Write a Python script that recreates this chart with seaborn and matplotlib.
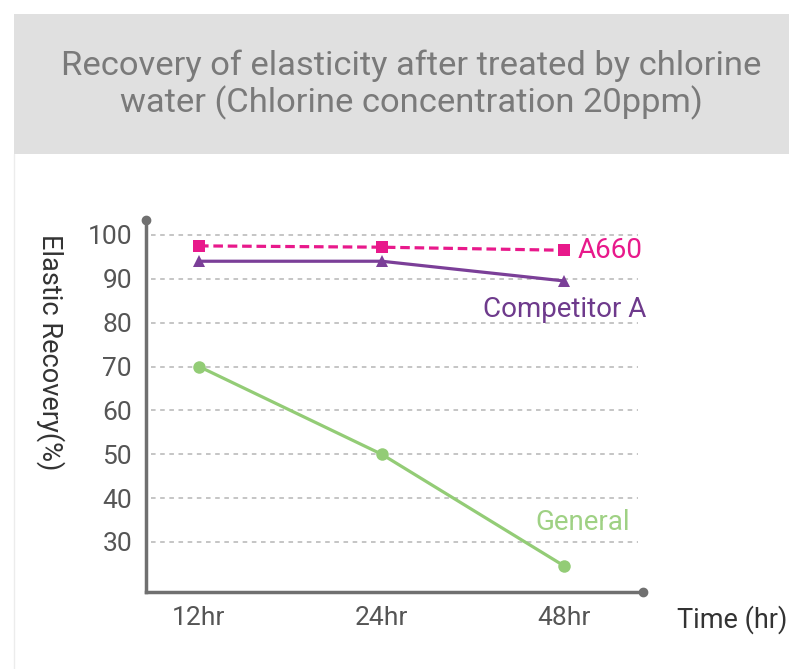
import matplotlib
matplotlib.use("Agg")
import matplotlib.pyplot as plt
from matplotlib.patches import Rectangle
from matplotlib.lines import Line2D
import seaborn as sns
import pandas as pd

times = ["12hr", "24hr", "48hr"]
series_names = ["A660", "Competitor A", "General"]
a660 = [97.5, 97.2, 96.5]
competitor_a = [94.0, 94.0, 89.5]
general = [70.0, 50.0, 24.5]
y_ticks = [30, 40, 50, 60, 70, 80, 90, 100]
title = "Recovery of elasticity after treated by chlorine\nwater (Chlorine concentration 20ppm)"
y_label = "Elastic Recovery(%)"
x_label = "Time (hr)"

colors = {"A660": "#e8198b", "Competitor A": "#7b3f98", "General": "#93cc76"}
label_colors = {"A660": "#e8198b", "Competitor A": "#6e3a8c", "General": "#9fd184"}

df = pd.DataFrame({
    "time": times * 3,
    "value": a660 + competitor_a + general,
    "series": [s for s in series_names for _ in times],
})

sns.set_style("white")
plt.rcParams["font.family"] = ["Roboto", "DejaVu Sans"]

fig = plt.figure(figsize=(7.89, 6.69), dpi=100)
fig.patch.set_facecolor("white")

# Title band
fig.patches.append(Rectangle((14 / 789, 1 - 154 / 669), 1 - 14 / 789, (154 - 14) / 669,
                             transform=fig.transFigure, facecolor="#e0e0e0", edgecolor="none", zorder=0))
fig.lines.append(Line2D([14 / 789, 14 / 789], [0, 1 - 154 / 669], transform=fig.transFigure,
                        color="#ececec", lw=1))
fig.text(411 / 789, 1 - 85 / 669, title, ha="center", va="center", fontsize=24.8,
         color="#7a7a7a", linespacing=1.12)

ax = fig.add_axes([146 / 789, 77 / 669, (643 - 146) / 789, (592 - 220) / 669])

sns.lineplot(data=df, x="time", y="value", hue="series", style="series",
             palette=colors,
             markers={"A660": "s", "Competitor A": "^", "General": "o"},
             dashes={"A660": (3, 1.5), "Competitor A": "", "General": ""},
             markersize=9, markeredgewidth=0, linewidth=2.3, sort=False,
             legend=False, ax=ax, zorder=3)

ax.set_xlim(-0.29, 2.43)
ax.set_ylim(18.6, 103.4)
ax.set_yticks(y_ticks)
ax.set_yticklabels([str(v) for v in y_ticks])
ax.tick_params(axis="both", length=0, labelsize=19, labelcolor="#555555")
ax.tick_params(axis="y", pad=10)
ax.tick_params(axis="x", pad=10)
ax.set_xlabel("")
ax.set_ylabel("")
for y in y_ticks:
    ax.axhline(y, xmin=0.01, xmax=0.99, color="#b5b5b5", lw=1.1, ls=(0, (3, 3)), zorder=1)

for side in ["top", "right"]:
    ax.spines[side].set_visible(False)
for side in ["left", "bottom"]:
    ax.spines[side].set_color("#707070")
    ax.spines[side].set_linewidth(2.5)
ax.plot([0], [1], "o", transform=ax.transAxes, color="#707070", ms=6, clip_on=False)
ax.plot([1], [0], "o", transform=ax.transAxes, color="#707070", ms=6, clip_on=False)

# Series labels
ax.text(2.07, 96.5, "A660", color=label_colors["A660"], fontsize=20, va="center", ha="left")
ax.text(2.45, 83.0, "Competitor A", color=label_colors["Competitor A"], fontsize=20,
        va="center", ha="right")
ax.text(2.36, 34.5, "General", color=label_colors["General"], fontsize=20, va="center", ha="right")

fig.text(50 / 789, 1 - 352 / 669, y_label, rotation=270, ha="center", va="center",
         fontsize=19.5, color="#333333")
fig.text(787 / 789, 1 - 620 / 669, x_label, ha="right", va="center", fontsize=19.5,
         color="#333333")

fig.savefig("out.png", dpi=100, facecolor="white")
